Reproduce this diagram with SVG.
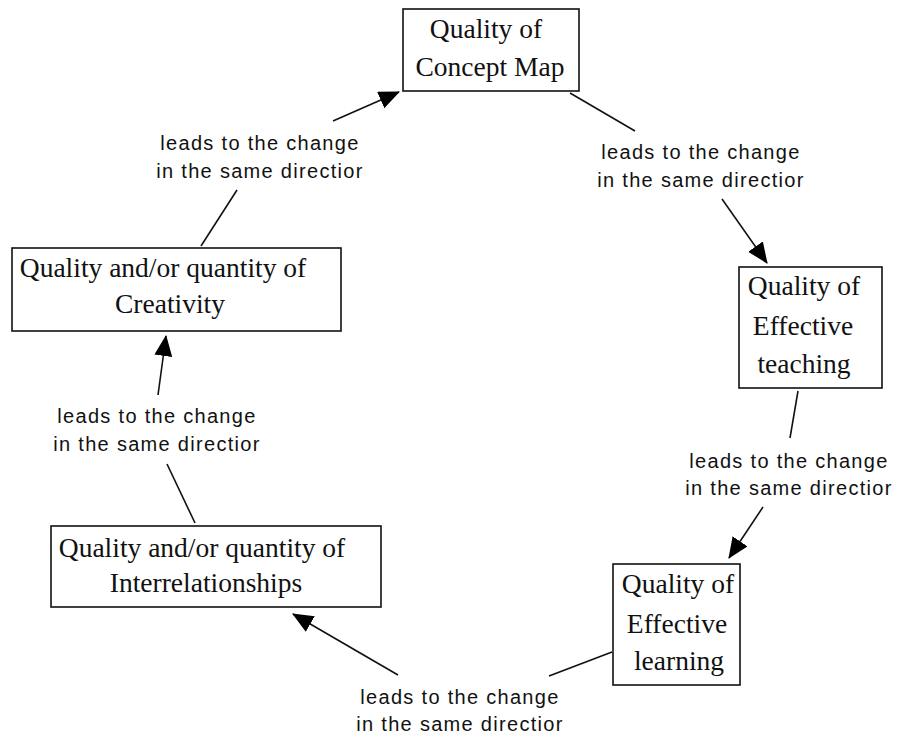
<svg xmlns="http://www.w3.org/2000/svg" width="897" height="736" viewBox="0 0 897 736">
<style>
.box{fill:#fff;stroke:#111;stroke-width:1.6}
.nt{font-family:"Liberation Serif","Times New Roman",serif;font-size:27.5px;fill:#111;text-anchor:middle}
.lt{font-family:"Liberation Sans",Arial,sans-serif;font-size:20px;letter-spacing:1.3px;fill:#111;text-anchor:middle}
.ln{stroke:#111;stroke-width:1.6;fill:none}
.ar{marker-end:url(#ah)}
</style>
<defs>
<marker id="ah" markerUnits="userSpaceOnUse" markerWidth="22" markerHeight="20" refX="20" refY="9" orient="auto">
<path d="M0,0 L21,9 L0,18 z" fill="#000"/>
</marker>
</defs>
<rect width="897" height="736" fill="#fff"/>
<g id="connectors">
<line class="ln" x1="201" y1="246" x2="237" y2="190"/>
<line class="ln ar" x1="333" y1="121" x2="399" y2="92"/>
<line class="ln" x1="570" y1="93" x2="635" y2="131"/>
<line class="ln ar" x1="722" y1="199" x2="767" y2="263"/>
<line class="ln" x1="798" y1="391" x2="790" y2="438"/>
<line class="ln ar" x1="763" y1="507" x2="729" y2="558"/>
<line class="ln" x1="612" y1="652" x2="549" y2="676"/>
<line class="ln ar" x1="398" y1="675" x2="293" y2="614"/>
<line class="ln" x1="195" y1="523" x2="167" y2="464"/>
<line class="ln ar" x1="158" y1="395" x2="166" y2="336"/>
<text class="lt" x="260" y="150">leads to the change</text>
<text class="lt" x="260" y="178">in the same directior</text>
<text class="lt" x="701" y="159">leads to the change</text>
<text class="lt" x="701" y="187">in the same directior</text>
<text class="lt" x="789" y="468">leads to the change</text>
<text class="lt" x="789" y="495">in the same directior</text>
<text class="lt" x="460" y="704">leads to the change</text>
<text class="lt" x="460" y="731">in the same directior</text>
<text class="lt" x="157" y="423">leads to the change</text>
<text class="lt" x="157" y="451">in the same directior</text>
</g>
<g id="concept-map">
<rect class="box" x="403" y="9" width="176" height="82"/>
<text class="nt" x="486" y="38">Quality of</text>
<text class="nt" x="490" y="76">Concept Map</text>
</g>
<g id="effective-teaching">
<rect class="box" x="739" y="267" width="143" height="121"/>
<text class="nt" x="804" y="295">Quality of</text>
<text class="nt" x="803" y="335">Effective</text>
<text class="nt" x="804" y="373">teaching</text>
</g>
<g id="effective-learning">
<rect class="box" x="613" y="564" width="127" height="121"/>
<text class="nt" x="678" y="593">Quality of</text>
<text class="nt" x="677" y="633">Effective</text>
<text class="nt" x="679" y="670">learning</text>
</g>
<g id="interrelationships">
<rect class="box" x="51" y="526" width="330" height="81"/>
<text class="nt" x="202" y="557">Quality and/or quantity of</text>
<text class="nt" x="206" y="592">Interrelationships</text>
</g>
<g id="creativity">
<rect class="box" x="12" y="248" width="329" height="83"/>
<text class="nt" x="163" y="277">Quality and/or quantity of</text>
<text class="nt" x="170" y="313">Creativity</text>
</g>
</svg>
